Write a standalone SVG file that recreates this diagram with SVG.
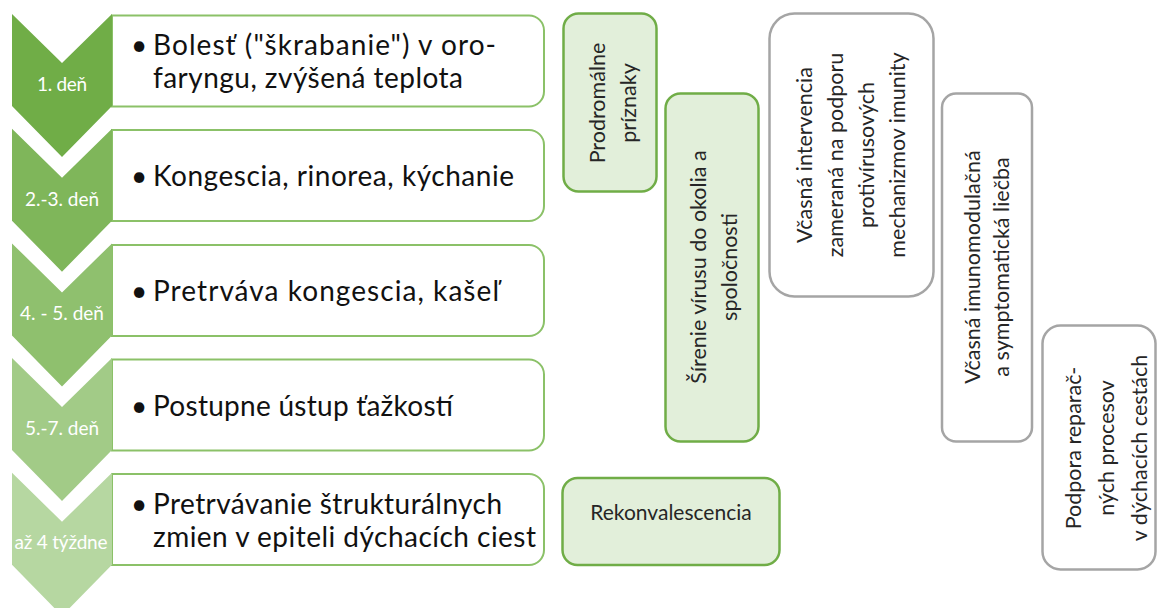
<svg xmlns="http://www.w3.org/2000/svg" width="1157" height="608" viewBox="0 0 1157 608">
<style>
.bg{fill:#ffffff}
.box{fill:#ffffff;stroke:#8BC168;stroke-width:2}
.lbl{font-family:Lato,"Liberation Sans",sans-serif;font-size:19px;fill:#ffffff;text-anchor:middle}
.bt{font-family:Lato,"Liberation Sans",sans-serif;font-size:28px;fill:#111111}
.gbox{fill:#E2EFDA;stroke:#70AD47;stroke-width:2.5}
.wbox{fill:#ffffff;stroke:#A5A5A5;stroke-width:2.5}
.vt{font-family:Lato,"Liberation Sans",sans-serif;font-size:21.5px;fill:#262626;text-anchor:middle}
</style>
<rect class="bg" x="0" y="0" width="1157" height="608"/>
<g id="connectors"></g>

<g id="step1">
<path class="box" d="M112,15.5 H529 A15,15 0 0 1 544,30.5 V91.5 A15,15 0 0 1 529,106.5 H112 Z"/>
<path d="M12,14 L62,63 L112,14 L112,106 L62,157 L12,106 Z" fill="#70AD47"/>
<text class="lbl" x="62" y="91" textLength="50">1. deň</text>
<text class="bt" x="131" y="55">•</text>
<text class="bt" x="153" y="55" textLength="343">Bolesť ("škrabanie") v oro-</text>
<text class="bt" x="153" y="88" textLength="310">faryngu, zvýšená teplota</text>
</g>

<g id="step2">
<path class="box" d="M112,130 H529 A15,15 0 0 1 544,145 V206 A15,15 0 0 1 529,221 H112 Z"/>
<path d="M12,128.7 L62,177.7 L112,128.7 L112,220.7 L62,271.7 L12,220.7 Z" fill="#7FB65A"/>
<text class="lbl" x="62" y="206">2.-3. deň</text>
<text class="bt" x="131" y="186">•</text>
<text class="bt" x="153" y="186" textLength="361">Kongescia, rinorea, kýchanie</text>
</g>

<g id="step3">
<path class="box" d="M112,245 H529 A15,15 0 0 1 544,260 V321 A15,15 0 0 1 529,336 H112 Z"/>
<path d="M12,243.4 L62,292.4 L112,243.4 L112,335.4 L62,386.4 L12,335.4 Z" fill="#8FC06E"/>
<text class="lbl" x="62" y="320">4. - 5. deň</text>
<text class="bt" x="131" y="301">•</text>
<text class="bt" x="153" y="301" textLength="346">Pretrváva kongescia, kašeľ</text>
</g>

<g id="step4">
<path class="box" d="M112,359.5 H529 A15,15 0 0 1 544,374.5 V435.5 A15,15 0 0 1 529,450.5 H112 Z"/>
<path d="M12,358.1 L62,407.1 L112,358.1 L112,450.1 L62,501.1 L12,450.1 Z" fill="#A2CB87"/>
<text class="lbl" x="62" y="435">5.-7. deň</text>
<text class="bt" x="131" y="416">•</text>
<text class="bt" x="153" y="416" textLength="300">Postupne ústup ťažkostí</text>
</g>

<g id="step5">
<path class="box" d="M112,474 H529 A15,15 0 0 1 544,489 V550 A15,15 0 0 1 529,565 H112 Z"/>
<path d="M12,472.8 L62,521.8 L112,472.8 L112,564.8 L62,615.8 L12,564.8 Z" fill="#B6D7A1"/>
<text class="lbl" x="61" y="549" textLength="93">až 4 týždne</text>
<text class="bt" x="131" y="514">•</text>
<text class="bt" x="153" y="514" textLength="349">Pretrvávanie štrukturálnych</text>
<text class="bt" x="153" y="547" textLength="383">zmien v epiteli dýchacích ciest</text>
</g>

<g id="prodromalne">
<rect class="gbox" x="563.5" y="13.5" width="93" height="178" rx="15"/>
<text class="vt" transform="translate(610,103) rotate(-90)"><tspan x="0" y="-5">Prodromálne</tspan><tspan x="0" y="26">príznaky</tspan></text>
</g>

<g id="sirenie">
<rect class="gbox" x="665.5" y="93.5" width="93" height="348" rx="15"/>
<text class="vt" transform="translate(712,267) rotate(-90)"><tspan x="0" y="-6">Šírenie vírusu do okolia a</tspan><tspan x="0" y="25">spoločnosti</tspan></text>
</g>

<g id="vcasna-intervencia">
<rect class="wbox" x="769.5" y="13.5" width="164" height="283" rx="25"/>
<text class="vt" transform="translate(851.5,155) rotate(-90)"><tspan x="0" y="-40">Včasná intervencia</tspan><tspan x="0" y="-9">zameraná na podporu</tspan><tspan x="0" y="22">protivírusových</tspan><tspan x="0" y="53">mechanizmov imunity</tspan></text>
</g>

<g id="imunomodulacna">
<rect class="wbox" x="942" y="93.5" width="90" height="348" rx="14"/>
<text class="vt" transform="translate(987,267) rotate(-90)"><tspan x="0" y="-7">Včasná imunomodulačná</tspan><tspan x="0" y="22">a symptomatická liečba</tspan></text>
</g>

<g id="podpora">
<rect class="wbox" x="1042.5" y="325.5" width="113" height="244" rx="18"/>
<text class="vt" transform="translate(1098.5,448) rotate(-90)"><tspan x="0" y="-18">Podpora reparač-</tspan><tspan x="0" y="15">ných procesov</tspan><tspan x="0" y="48">v dýchacích cestách</tspan></text>
</g>

<g id="rekonvalescencia">
<rect class="gbox" x="562.5" y="478" width="217" height="87" rx="15"/>
<text class="vt" x="671" y="520" style="font-size:21px">Rekonvalescencia</text>
</g>
</svg>
